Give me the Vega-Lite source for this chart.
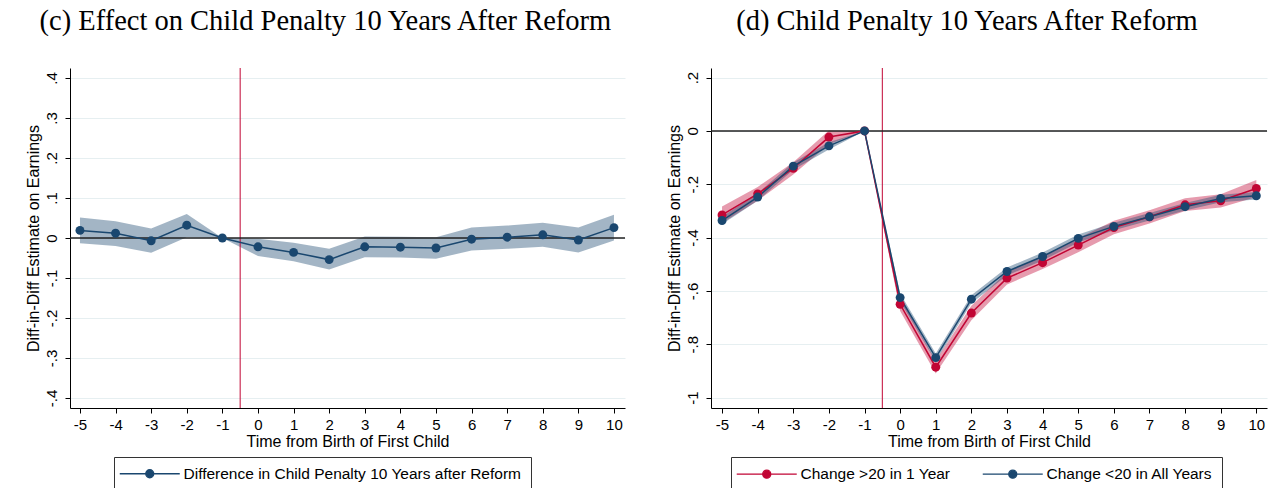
{
  "$schema": "https://vega.github.io/schema/vega-lite/v6.json",
  "background": "white",
  "padding": {"left": 24, "top": 7, "right": 0, "bottom": 0},
  "config": {
    "font": "Liberation Sans",
    "view": {"stroke": null},
    "axis": {"labelFont": "Liberation Sans", "labelFontSize": 15, "labelColor": "black", "labelOverlap": false, "labelFlush": false, "titleFont": "Liberation Sans", "titleFontSize": 16, "titleFontWeight": "normal", "titleColor": "black", "domainColor": "black", "tickColor": "black", "tickSize": 5, "domainWidth": 1, "tickWidth": 1},
    "title": {"font": "Liberation Serif", "fontSize": 28.5, "fontWeight": "normal", "color": "black", "anchor": "middle", "frame": "bounds", "offset": 32},
    "legend": {"orient": "none", "title": null, "direction": "horizontal", "strokeColor": "#333333", "padding": 9, "symbolType": "M-6,0L6,0M0.8,0C0.8,0.442 0.442,0.8 0,0.8C-0.442,0.8 -0.8,0.442 -0.8,0C-0.8,-0.442 -0.442,-0.8 0,-0.8C0.442,-0.8 0.8,-0.442 0.8,0Z", "symbolSize": 100, "symbolStrokeWidth": 1.3, "symbolOffset": 19, "labelOffset": 26, "labelFontSize": 15.5, "labelFont": "Liberation Sans", "labelColor": "black", "labelLimit": 0, "columnPadding": 29}
  },
  "datasets": {
    "c": [
      {"t": -5, "est": 0.019, "lo": -0.013, "hi": 0.051, "series": "Difference in Child Penalty 10 Years after Reform"},
      {"t": -4, "est": 0.012, "lo": -0.020, "hi": 0.042, "series": "Difference in Child Penalty 10 Years after Reform"},
      {"t": -3, "est": -0.007, "lo": -0.037, "hi": 0.024, "series": "Difference in Child Penalty 10 Years after Reform"},
      {"t": -2, "est": 0.032, "lo": 0.002, "hi": 0.060, "series": "Difference in Child Penalty 10 Years after Reform"},
      {"t": -1, "est": 0, "lo": 0, "hi": 0, "series": "Difference in Child Penalty 10 Years after Reform"},
      {"t": 0, "est": -0.022, "lo": -0.045, "hi": -0.002, "series": "Difference in Child Penalty 10 Years after Reform"},
      {"t": 1, "est": -0.036, "lo": -0.058, "hi": -0.012, "series": "Difference in Child Penalty 10 Years after Reform"},
      {"t": 2, "est": -0.054, "lo": -0.079, "hi": -0.027, "series": "Difference in Child Penalty 10 Years after Reform"},
      {"t": 3, "est": -0.022, "lo": -0.048, "hi": 0.004, "series": "Difference in Child Penalty 10 Years after Reform"},
      {"t": 4, "est": -0.023, "lo": -0.049, "hi": 0.003, "series": "Difference in Child Penalty 10 Years after Reform"},
      {"t": 5, "est": -0.025, "lo": -0.052, "hi": 0.002, "series": "Difference in Child Penalty 10 Years after Reform"},
      {"t": 6, "est": -0.003, "lo": -0.031, "hi": 0.026, "series": "Difference in Child Penalty 10 Years after Reform"},
      {"t": 7, "est": 0.002, "lo": -0.027, "hi": 0.031, "series": "Difference in Child Penalty 10 Years after Reform"},
      {"t": 8, "est": 0.008, "lo": -0.022, "hi": 0.038, "series": "Difference in Child Penalty 10 Years after Reform"},
      {"t": 9, "est": -0.005, "lo": -0.036, "hi": 0.026, "series": "Difference in Child Penalty 10 Years after Reform"},
      {"t": 10, "est": 0.026, "lo": -0.006, "hi": 0.058, "series": "Difference in Child Penalty 10 Years after Reform"}
    ],
    "d": [
      {"t": -5, "est": -0.315, "lo": -0.345, "hi": -0.283, "group": "Change >20 in 1 Year"},
      {"t": -4, "est": -0.236, "lo": -0.262, "hi": -0.21, "group": "Change >20 in 1 Year"},
      {"t": -3, "est": -0.14, "lo": -0.163, "hi": -0.117, "group": "Change >20 in 1 Year"},
      {"t": -2, "est": -0.023, "lo": -0.05, "hi": 0.002, "group": "Change >20 in 1 Year"},
      {"t": -1, "est": 0, "lo": 0, "hi": 0, "group": "Change >20 in 1 Year"},
      {"t": 0, "est": -0.65, "lo": -0.675, "hi": -0.625, "group": "Change >20 in 1 Year"},
      {"t": 1, "est": -0.886, "lo": -0.91, "hi": -0.862, "group": "Change >20 in 1 Year"},
      {"t": 2, "est": -0.683, "lo": -0.71, "hi": -0.656, "group": "Change >20 in 1 Year"},
      {"t": 3, "est": -0.552, "lo": -0.576, "hi": -0.528, "group": "Change >20 in 1 Year"},
      {"t": 4, "est": -0.494, "lo": -0.518, "hi": -0.47, "group": "Change >20 in 1 Year"},
      {"t": 5, "est": -0.428, "lo": -0.455, "hi": -0.402, "group": "Change >20 in 1 Year"},
      {"t": 6, "est": -0.362, "lo": -0.387, "hi": -0.337, "group": "Change >20 in 1 Year"},
      {"t": 7, "est": -0.322, "lo": -0.347, "hi": -0.297, "group": "Change >20 in 1 Year"},
      {"t": 8, "est": -0.277, "lo": -0.3, "hi": -0.252, "group": "Change >20 in 1 Year"},
      {"t": 9, "est": -0.262, "lo": -0.287, "hi": -0.237, "group": "Change >20 in 1 Year"},
      {"t": 10, "est": -0.216, "lo": -0.248, "hi": -0.184, "group": "Change >20 in 1 Year"},
      {"t": -5, "est": -0.336, "lo": -0.35, "hi": -0.322, "group": "Change <20 in All Years"},
      {"t": -4, "est": -0.248, "lo": -0.262, "hi": -0.234, "group": "Change <20 in All Years"},
      {"t": -3, "est": -0.132, "lo": -0.146, "hi": -0.118, "group": "Change <20 in All Years"},
      {"t": -2, "est": -0.056, "lo": -0.07, "hi": -0.042, "group": "Change <20 in All Years"},
      {"t": -1, "est": 0, "lo": 0, "hi": 0, "group": "Change <20 in All Years"},
      {"t": 0, "est": -0.625, "lo": -0.64, "hi": -0.61, "group": "Change <20 in All Years"},
      {"t": 1, "est": -0.85, "lo": -0.865, "hi": -0.835, "group": "Change <20 in All Years"},
      {"t": 2, "est": -0.631, "lo": -0.646, "hi": -0.616, "group": "Change <20 in All Years"},
      {"t": 3, "est": -0.527, "lo": -0.542, "hi": -0.512, "group": "Change <20 in All Years"},
      {"t": 4, "est": -0.471, "lo": -0.486, "hi": -0.456, "group": "Change <20 in All Years"},
      {"t": 5, "est": -0.403, "lo": -0.418, "hi": -0.388, "group": "Change <20 in All Years"},
      {"t": 6, "est": -0.358, "lo": -0.372, "hi": -0.344, "group": "Change <20 in All Years"},
      {"t": 7, "est": -0.322, "lo": -0.336, "hi": -0.308, "group": "Change <20 in All Years"},
      {"t": 8, "est": -0.284, "lo": -0.298, "hi": -0.27, "group": "Change <20 in All Years"},
      {"t": 9, "est": -0.253, "lo": -0.267, "hi": -0.239, "group": "Change <20 in All Years"},
      {"t": 10, "est": -0.243, "lo": -0.257, "hi": -0.229, "group": "Change <20 in All Years"}
    ]
  },
  "spacing": 40,
  "resolve": {"scale": {"x": "independent", "y": "independent", "stroke": "independent", "fill": "independent"}, "legend": {"stroke": "independent", "fill": "independent"}},
  "hconcat": [
    {
      "width": 555,
      "height": 340,
      "title": "(c) Effect on Child Penalty 10 Years After Reform",
      "data": {"name": "c"},
      "layer": [
        {
          "mark": {"type": "area", "color": "#1a476f", "opacity": 0.4},
          "encoding": {
            "x": {"field": "t", "type": "quantitative", "scale": {"domain": [-5.28, 10.31], "nice": false, "zero": false},
              "axis": {"values": [-5, -4, -3, -2, -1, 0, 1, 2, 3, 4, 5, 6, 7, 8, 9, 10], "tickCount": 30, "labelOverlap": false, "labelFlush": false, "labelExpr": "(datum.value < 0 ? '-' : '') + abs(datum.value)", "grid": false, "title": "Time from Birth of First Child", "labelPadding": 4, "titlePadding": 1}},
            "y": {"field": "lo", "type": "quantitative", "scale": {"domain": [-0.425, 0.425], "nice": false, "zero": false},
              "axis": {"values": [-0.4, -0.3, -0.2, -0.1, 0, 0.1, 0.2, 0.3, 0.4], "tickCount": 30, "labelOverlap": false, "labelAngle": -90, "labelExpr": "abs(datum.value) < 1e-9 ? '0' : (datum.value < 0 ? '-' : '') + (abs(datum.value) >= 1 ? format(abs(datum.value), '.0f') : substring(format(abs(datum.value), '.1f'), 1))", "grid": true, "gridColor": "#e6eff1", "gridWidth": 1, "title": "Diff-in-Diff Estimate on Earnings", "labelPadding": 6, "titlePadding": 3}},
            "y2": {"field": "hi"}
          }
        },
        {
          "data": {"values": [{}]},
          "mark": {"type": "rule", "color": "#c10534", "strokeWidth": 1},
          "encoding": {"x": {"datum": -0.5, "type": "quantitative"}}
        },
        {
          "data": {"values": [{}]},
          "mark": {"type": "rule", "color": "#222222", "strokeWidth": 1.5},
          "encoding": {"y": {"datum": 0, "type": "quantitative"}}
        },
        {
          "mark": {"type": "line", "strokeWidth": 1.5},
          "encoding": {
            "x": {"field": "t", "type": "quantitative"},
            "y": {"field": "est", "type": "quantitative"},
            "stroke": {"field": "series", "type": "nominal", "scale": {"range": ["#1a476f"]},
              "legend": {"legendX": 44, "legendY": 389, "symbolFillColor": "#1a476f"}}
          }
        },
        {
          "mark": {"type": "point", "filled": true, "size": 80, "opacity": 1, "color": "#1a476f"},
          "encoding": {
            "x": {"field": "t", "type": "quantitative"},
            "y": {"field": "est", "type": "quantitative"}
          }
        }
      ]
    },
    {
      "width": 556,
      "height": 340,
      "title": "(d) Child Penalty 10 Years After Reform",
      "data": {"name": "d"},
      "layer": [
        {
          "transform": [{"filter": "datum.group === 'Change >20 in 1 Year'"}],
          "mark": {"type": "area", "color": "#c10534", "opacity": 0.4},
          "encoding": {
            "x": {"field": "t", "type": "quantitative", "scale": {"domain": [-5.31, 10.3], "nice": false, "zero": false},
              "axis": {"values": [-5, -4, -3, -2, -1, 0, 1, 2, 3, 4, 5, 6, 7, 8, 9, 10], "tickCount": 30, "labelOverlap": false, "labelFlush": false, "labelExpr": "(datum.value < 0 ? '-' : '') + abs(datum.value)", "grid": false, "title": "Time from Birth of First Child", "labelPadding": 4, "titlePadding": 1}},
            "y": {"field": "lo", "type": "quantitative", "scale": {"domain": [-1.039, 0.236], "nice": false, "zero": false},
              "axis": {"values": [-1, -0.8, -0.6, -0.4, -0.2, 0, 0.2], "tickCount": 30, "labelOverlap": false, "labelAngle": -90, "labelExpr": "abs(datum.value) < 1e-9 ? '0' : (datum.value < 0 ? '-' : '') + (abs(datum.value) >= 1 ? format(abs(datum.value), '.0f') : substring(format(abs(datum.value), '.1f'), 1))", "grid": true, "gridColor": "#e6eff1", "gridWidth": 1, "title": "Diff-in-Diff Estimate on Earnings", "labelPadding": 6, "titlePadding": 3}},
            "y2": {"field": "hi"}
          }
        },
        {
          "transform": [{"filter": "datum.group === 'Change <20 in All Years'"}],
          "mark": {"type": "area", "color": "#1a476f", "opacity": 0.4},
          "encoding": {
            "x": {"field": "t", "type": "quantitative"},
            "y": {"field": "lo", "type": "quantitative"},
            "y2": {"field": "hi"}
          }
        },
        {
          "data": {"values": [{}]},
          "mark": {"type": "rule", "color": "#c10534", "strokeWidth": 1},
          "encoding": {"x": {"datum": -0.5, "type": "quantitative"}}
        },
        {
          "data": {"values": [{}]},
          "mark": {"type": "rule", "color": "#222222", "strokeWidth": 1.5},
          "encoding": {"y": {"datum": 0, "type": "quantitative"}}
        },
        {
          "mark": {"type": "line", "strokeWidth": 1.5},
          "encoding": {
            "x": {"field": "t", "type": "quantitative"},
            "y": {"field": "est", "type": "quantitative"},
            "stroke": {"field": "group", "type": "nominal", "scale": {"domain": ["Change >20 in 1 Year", "Change <20 in All Years"], "range": ["#c10534", "#1a476f"]},
              "legend": {"legendX": 20, "legendY": 389}}
          }
        },
        {
          "mark": {"type": "point", "filled": true, "size": 80, "opacity": 1},
          "encoding": {
            "x": {"field": "t", "type": "quantitative"},
            "y": {"field": "est", "type": "quantitative"},
            "fill": {"field": "group", "type": "nominal", "scale": {"domain": ["Change >20 in 1 Year", "Change <20 in All Years"], "range": ["#c10534", "#1a476f"]},
              "legend": {"legendX": 20, "legendY": 389}}
          }
        }
      ]
    }
  ]
}
